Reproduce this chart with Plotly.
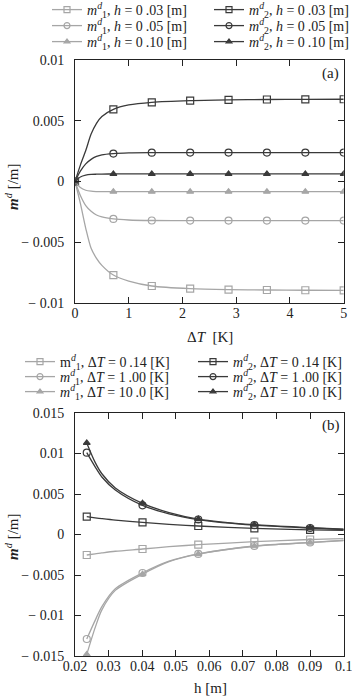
import plotly.graph_objects as go

# ---------------- data (a) ----------------
dT_mark = [0, 0.714, 1.429, 2.143, 2.857, 3.571, 4.286, 5.0]
dT_line = [0, 0.1, 0.2, 0.3, 0.4, 0.5, 0.714, 1.0, 1.429, 2.143, 2.857, 3.571, 4.286, 5.0]

a_m1_h003_line = [0, -1.8, -3.85, -5.5, -6.32, -6.9, -7.7, -8.2, -8.6, -8.82, -8.9, -8.93, -8.95, -8.96]
a_m1_h005_line = [0, -1.15, -1.98, -2.45, -2.76, -2.92, -3.08, -3.17, -3.21, -3.22, -3.22, -3.22, -3.22, -3.22]
a_m1_h010_line = [0, -0.5, -0.72, -0.8, -0.83, -0.84, -0.84, -0.84, -0.84, -0.84, -0.84, -0.84, -0.84, -0.84]
a_m2_h003_line = [0, 1.35, 2.55, 3.9, 4.79, 5.35, 5.94, 6.3, 6.52, 6.66, 6.72, 6.75, 6.76, 6.77]
a_m2_h005_line = [0, 0.85, 1.45, 1.82, 2.06, 2.2, 2.3, 2.35, 2.37, 2.38, 2.38, 2.38, 2.38, 2.38]
a_m2_h010_line = [0, 0.37, 0.52, 0.58, 0.6, 0.61, 0.62, 0.62, 0.62, 0.62, 0.62, 0.62, 0.62, 0.62]

a_m1_h003_mark = [0, -7.7, -8.6, -8.82, -8.9, -8.93, -8.95, -8.96]
a_m1_h005_mark = [0, -3.08, -3.21, -3.22, -3.22, -3.22, -3.22, -3.22]
a_m1_h010_mark = [0, -0.84, -0.84, -0.84, -0.84, -0.84, -0.84, -0.84]
a_m2_h003_mark = [0, 5.94, 6.52, 6.66, 6.72, 6.75, 6.76, 6.77]
a_m2_h005_mark = [0, 2.3, 2.37, 2.38, 2.38, 2.38, 2.38, 2.38]
a_m2_h010_mark = [0, 0.62, 0.62, 0.62, 0.62, 0.62, 0.62, 0.62]

# ---------------- data (b) ----------------
h_mark = [0.0235, 0.0401, 0.0567, 0.0734, 0.09]
h_line = [0.0235, 0.026, 0.028, 0.032, 0.0401, 0.048, 0.0567, 0.0734, 0.09, 0.1]

b_m1_T014_line = [-2.53, -2.4, -2.28, -2.07, -1.79, -1.5, -1.26, -0.89, -0.62, -0.52]
b_m1_T100_line = [-12.9, -10.6, -8.9, -6.7, -4.75, -3.3, -2.4, -1.42, -0.98, -0.72]
b_m1_T100b_line = [-14.8, -11.5, -9.3, -6.9, -4.9, -3.35, -2.42, -1.45, -1.0, -0.74]
b_m2_T014_line = [2.2, 2.06, 1.96, 1.78, 1.5, 1.25, 1.05, 0.76, 0.56, 0.5]
b_m2_T100_line = [10.1, 8.35, 7.1, 5.5, 3.6, 2.55, 1.85, 1.15, 0.8, 0.62]
b_m2_T100b_line = [11.3, 8.9, 7.5, 5.75, 3.85, 2.7, 1.91, 1.21, 0.84, 0.65]

b_m1_T014_mark = [-2.53, -1.79, -1.26, -0.89, -0.62]
b_m1_T100_mark = [-12.9, -4.75, -2.4, -1.42, -0.98]
b_m1_T100b_mark = [-14.8, -4.9, -2.42, -1.45, -1.0]
b_m2_T014_mark = [2.2, 1.5, 1.05, 0.76, 0.56]
b_m2_T100_mark = [10.1, 3.6, 1.85, 1.15, 0.8]
b_m2_T100b_mark = [11.3, 3.85, 1.91, 1.21, 0.84]

a_yticks = [-0.01, -0.005, 0, 0.005, 0.01]
a_yticktext = ["− 0.01", "− 0.005", "0", "0.005", "0.01"]
a_xticks = [0, 1, 2, 3, 4, 5]
b_yticks = [-0.015, -0.01, -0.005, 0, 0.005, 0.01, 0.015]
b_yticktext = ["− 0.015", "− 0.01", "− 0.005", "0", "0.005", "0.01", "0.015"]
b_xticks = [0.02, 0.03, 0.04, 0.05, 0.06, 0.07, 0.08, 0.09, 0.1]
b_xticktext = ["0.02", "0.03", "0.04", "0.05", "0.06", "0.07", "0.08", "0.09", "0.1"]

DARK = "#3a3a3a"
LIGHT = "#a6a6a6"
FONT = "Liberation Serif"
TS = "\u2009"
W, H = 352, 699

def m_lbl(i, italic_m=True):
    m = "<i>m</i>" if italic_m else "m"
    return f"{m}<sup><i>d</i></sup><sub>{i}</sub>"

fig = go.Figure()

def add_series(x_line, y_line, x_mark, y_mark, color, symbol, msize, name, xa, ya, legend, scale=1e-3):
    yl = [v * scale for v in y_line]
    ym = [v * scale for v in y_mark]
    fig.add_trace(go.Scatter(x=x_line, y=yl, mode="lines", line=dict(color=color, width=1.3, shape="spline", smoothing=0.8),
                             xaxis=xa, yaxis=ya, showlegend=False, hoverinfo="skip"))
    fig.add_trace(go.Scatter(x=x_mark, y=ym, mode="markers",
                             marker=dict(symbol=symbol, size=msize, color=color, line=dict(color=color, width=1.2)),
                             xaxis=xa, yaxis=ya, showlegend=False))
    fig.add_trace(go.Scatter(x=[None], y=[None], mode="lines+markers", name=name, legend=legend,
                             line=dict(color=color, width=1.3),
                             marker=dict(symbol=symbol, size=msize - 1, color=color, line=dict(color=color, width=1.2)),
                             xaxis=xa, yaxis=ya))

# (a): one legend per row, m1 then m2
a_series = [
    (a_m1_h003_line, a_m1_h003_mark, LIGHT, "square-open", 7, f"{m_lbl(1)}, <i>h</i> = 0{TS}.03 [m]", "legend"),
    (a_m2_h003_line, a_m2_h003_mark, DARK, "square-open", 7, f"{m_lbl(2)}, <i>h</i> = 0{TS}.03 [m]", "legend"),
    (a_m1_h005_line, a_m1_h005_mark, LIGHT, "circle-open", 7, f"{m_lbl(1)}, <i>h</i> = 0{TS}.05 [m]", "legend2"),
    (a_m2_h005_line, a_m2_h005_mark, DARK, "circle-open", 7, f"{m_lbl(2)}, <i>h</i> = 0{TS}.05 [m]", "legend2"),
    (a_m1_h010_line, a_m1_h010_mark, LIGHT, "triangle-up", 6, f"{m_lbl(1)}, <i>h</i> = 0{TS}.10 [m]", "legend3"),
    (a_m2_h010_line, a_m2_h010_mark, DARK, "triangle-up", 6, f"{m_lbl(2)}, <i>h</i> = 0{TS}.10 [m]", "legend3"),
]
for yl, ym, c, s, ms, n, lg in a_series:
    add_series(dT_line, yl, dT_mark, ym, c, s, ms, n, "x", "y", lg)

b_series = [
    (b_m1_T014_line, b_m1_T014_mark, LIGHT, "square-open", 7, f"{m_lbl(1, False)}, Δ<i>T</i> = 0{TS}.14 [K]", "legend4"),
    (b_m2_T014_line, b_m2_T014_mark, DARK, "square-open", 7, f"{m_lbl(2)}, Δ<i>T</i> = 0{TS}.14 [K]", "legend4"),
    (b_m1_T100_line, b_m1_T100_mark, LIGHT, "circle-open", 7, f"{m_lbl(1)}, Δ<i>T</i> = 1{TS}.00 [K]", "legend5"),
    (b_m2_T100_line, b_m2_T100_mark, DARK, "circle-open", 7, f"{m_lbl(2)}, Δ<i>T</i> = 1{TS}.00 [K]", "legend5"),
    (b_m1_T100b_line, b_m1_T100b_mark, LIGHT, "triangle-up", 6, f"{m_lbl(1)}, Δ<i>T</i> = 10{TS}.0 [K]", "legend6"),
    (b_m2_T100b_line, b_m2_T100b_mark, DARK, "triangle-up", 6, f"{m_lbl(2)}, Δ<i>T</i> = 10{TS}.0 [K]", "legend6"),
]
for yl, ym, c, s, ms, n, lg in b_series:
    add_series(h_line, yl, h_mark, ym, c, s, ms, n, "x2", "y2", lg)

x0, x1 = 75 / W, 343.7 / W
ya_dom = [1 - 303 / H, 1 - 60 / H]
yb_dom = [1 - 656 / H, 1 - 413 / H]

axis_common = dict(showline=True, linecolor="#222", linewidth=1, mirror="allticks", ticks="inside",
                   ticklen=6, tickcolor="#222", tickwidth=1, showgrid=False, zeroline=False,
                   ticklabeloverflow="allow",
                   tickfont=dict(family=FONT, size=14, color="#222"))

def leg(xpx, ypx, ew):
    return dict(orientation="h", x=xpx / W, xanchor="left", y=1 - ypx / H, yanchor="middle",
                entrywidth=ew, entrywidthmode="pixels", bgcolor="rgba(0,0,0,0)",
                font=dict(family=FONT, size=14, color="#222"), itemwidth=30)

layout_legends = {}
a_rows = [10, 26, 42]
b_rows = [362, 377, 392]
for k, yv in enumerate(a_rows):
    layout_legends["legend" if k == 0 else f"legend{k + 1}"] = leg(47, yv, 117)
for k, yv in enumerate(b_rows):
    layout_legends[f"legend{k + 4}"] = leg(20, yv, 128)

def ann(text, xpx, ypx, angle=0, size=15):
    return dict(text=text, x=xpx / W, y=1 - ypx / H, xref="paper", yref="paper", showarrow=False,
                xanchor="center", yanchor="middle", textangle=angle,
                font=dict(family=FONT, size=size, color="#222"))

fig.update_layout(
    width=W, height=H, margin=dict(l=0, r=0, t=0, b=0, autoexpand=False),
    paper_bgcolor="white", plot_bgcolor="white",
    font=dict(family=FONT, size=14, color="#222"),
    xaxis=dict(domain=[x0, x1], range=[0, 5], tickvals=a_xticks, anchor="y", ticklabelstandoff=-3, **axis_common),
    yaxis=dict(domain=ya_dom, range=[-0.01, 0.01], tickvals=a_yticks, ticktext=a_yticktext, anchor="x",
               ticklabelstandoff=7, **axis_common),
    xaxis2=dict(domain=[x0, x1], range=[0.02, 0.1], tickvals=b_xticks, ticktext=b_xticktext, anchor="y2",
                ticklabelstandoff=-3, **axis_common),
    yaxis2=dict(domain=yb_dom, range=[-0.015, 0.015], tickvals=b_yticks, ticktext=b_yticktext, anchor="x2",
                ticklabelstandoff=7, **axis_common),
    annotations=[
        ann("(a)", 330, 73),
        ann("(b)", 331, 425),
        ann("Δ<i>T</i>  [K]", 210, 337),
        ann("h [m]", 210, 688),
        ann("<b><i>m</i></b><sup><i>d</i></sup> [/m]", 12, 187, -90),
        ann("<b><i>m</i></b><sup><i>d</i></sup> [/m]", 12, 537, -90),
    ],
    **layout_legends,
)

fig.write_html("out.html")
